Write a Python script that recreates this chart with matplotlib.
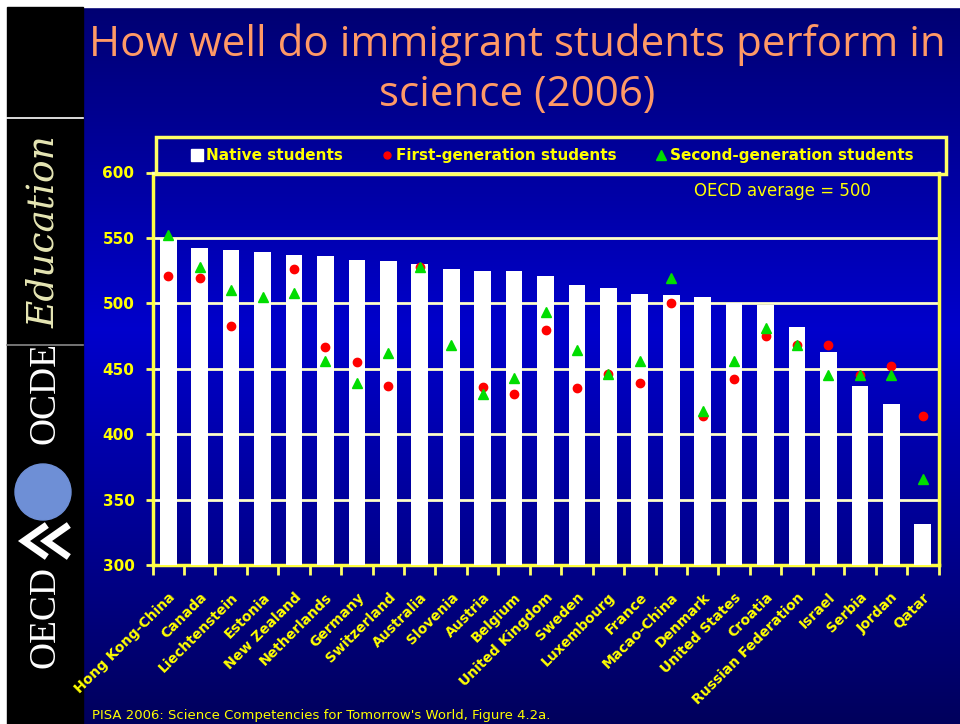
import numpy as np
import matplotlib.pyplot as plt
from matplotlib.lines import Line2D
from matplotlib.patches import Rectangle, Circle

# Data
countries = ['Hong Kong-China', 'Canada', 'Liechtenstein', 'Estonia', 'New Zealand',
             'Netherlands', 'Germany', 'Switzerland', 'Australia', 'Slovenia',
             'Austria', 'Belgium', 'United Kingdom', 'Sweden', 'Luxembourg',
             'France', 'Macao-China', 'Denmark', 'United States', 'Croatia',
             'Russian Federation', 'Israel', 'Serbia', 'Jordan', 'Qatar']
native = [549, 542, 541, 539, 537, 536, 533, 532, 530, 526, 525, 525, 521,
          514, 512, 507, 506, 505, 500, 499, 482, 463, 437, 423, 331]
first_gen = [521, 519, 483, np.nan, 526, 467, 455, 437, 528, np.nan, 436, 431, 480,
             435, 446, 439, 500, 414, 442, 475, 468, 468, 445, 452, 414]
second_gen = [552, 528, 510, 505, 508, 456, 439, 462, 528, 468, 431, 443, 493,
              464, 446, 456, 519, 418, 456, 481, 468, 445, 445, 445, 366]
yticks = [300, 350, 400, 450, 500, 550, 600]

W, H = 960, 724
fig = plt.figure(figsize=(W / 100, H / 100), dpi=100)

# background: blue vertical gradient
bg = fig.add_axes([0, 0, 1, 1], zorder=-10)
rows = np.arange(H)
blue = np.interp(rows, [0, 330, 724], [0.44, 0.80, 0.36])
grad = np.zeros((H, 2, 3))
grad[:, :, 2] = blue[:, None]
bg.imshow(grad, aspect='auto', extent=[0, 1, 0, 1])
bg.set_xlim(0, 1)
bg.set_ylim(0, 1)
bg.axis('off')

def fx(px):
    return px / W

def fy(py):
    return 1 - py / H

# white border and black logo strip
fig.add_artist(Rectangle((0, fy(7)), 1, 7 / H, transform=fig.transFigure, color='white', zorder=-5))
fig.add_artist(Rectangle((0, 0), fx(7), 1, transform=fig.transFigure, color='white', zorder=-5))
fig.add_artist(Rectangle((fx(7), 0), fx(76), fy(7), transform=fig.transFigure, color='black', zorder=-5))
fig.add_artist(Line2D([fx(7), fx(83)], [fy(118), fy(118)], transform=fig.transFigure, color='white', lw=1.2))
fig.add_artist(Line2D([fx(7), fx(83)], [fy(345), fy(345)], transform=fig.transFigure, color='#888888', lw=1.2))
fig.text(fx(44), fy(232), 'Education', rotation=90, ha='center', va='center',
         color='#E6E6B4', fontsize=27, family='DejaVu Serif', style='italic')
fig.text(fx(45), fy(393), 'OCDE', rotation=90, ha='center', va='center',
         color='white', fontsize=27, family='Liberation Serif')
fig.add_artist(Circle((0.43, (H - 492) / 100), 0.28, transform=fig.dpi_scale_trans,
                      color='#6E8FD6', zorder=2))
# double chevron of the logo
for x0 in (24, 46):
    fig.add_artist(Line2D([fx(x0 + 20), fx(x0), fx(x0 + 20)], [fy(527), fy(541), fy(555)],
                          transform=fig.transFigure, color='white', lw=5,
                          solid_joinstyle='miter'))
fig.text(fx(45), fy(617), 'OECD', rotation=90, ha='center', va='center',
         color='white', fontsize=27, family='Liberation Serif')

# title
fig.text(fx(517), fy(45), 'How well do immigrant students perform in', ha='center', va='center',
         color='#FF9966', fontsize=30.3, family='Open Sans')
fig.text(fx(517), fy(95), 'science (2006)', ha='center', va='center',
         color='#FF9966', fontsize=30.3, family='Open Sans')

# main axes
ax = fig.add_axes([fx(152.5), fy(565), fx(938.5 - 152.5), (565 - 172.5) / H])
ax.set_facecolor('none')
x = np.arange(len(countries))
ax.bar(x, native, width=0.53, bottom=0, color='white', zorder=3)
ax.plot(x, first_gen, 'o', color='#FF0000', markersize=6, zorder=4)
ax.plot(x, second_gen, '^', color='#00DD00', markersize=7.5, zorder=5)

ax.set_xlim(-0.5, len(countries) - 0.5)
ax.set_ylim(300, 600)
ax.set_yticks(yticks)
ax.set_yticklabels([str(v) for v in yticks], color='#FFFF00', fontweight='bold', fontsize=11)
for v in yticks[1:]:
    ax.axhline(v, color='#FFFFC8', lw=2, zorder=1)

ax.set_xticks(np.arange(len(countries) + 1) - 0.5)
ax.set_xticklabels([])
ax.set_xticks(x, countries, minor=True)
ax.tick_params(axis='x', which='major', length=7, width=2, color='#FFFF66', direction='out')
ax.tick_params(axis='x', which='minor', length=0, pad=18)
ax.tick_params(axis='y', length=5, width=2, color='#FFFF66', pad=8)
for lab in ax.get_xticklabels(minor=True):
    lab.set_rotation(45)
    lab.set_ha('right')
    lab.set_va('top')
    lab.set_rotation_mode('anchor')
    lab.set_color('#FFFF00')
    lab.set_fontweight('bold')
    lab.set_fontsize(10)

for s in ['left', 'right', 'bottom']:
    ax.spines[s].set_color('#FFFF44')
    ax.spines[s].set_linewidth(2.5)
ax.spines['top'].set_color('#FFFFC8')
ax.spines['top'].set_linewidth(2)

ax.text(0.802, 0.953, 'OECD average = 500', transform=ax.transAxes, ha='center', va='center',
        color='#FFFF00', fontsize=12)

# legend box
fig.add_artist(Rectangle((fx(156), fy(174)), fx(790), 37 / H, transform=fig.transFigure,
                         fill=False, edgecolor='#FFFF66', lw=2.5))
handles = [
    Line2D([], [], marker='s', color='white', ls='none', markersize=9),
    Line2D([], [], marker='o', color='#FF0000', ls='none', markersize=5),
    Line2D([], [], marker='^', color='#00DD00', ls='none', markersize=7),
]
leg = fig.legend(handles, ['Native students', 'First-generation students', 'Second-generation students'],
                 loc='center', bbox_to_anchor=(fx(553), fy(155.5)), ncol=3, frameon=False,
                 handlelength=0.6, handletextpad=0.3, columnspacing=2.6,
                 prop={'weight': 'bold', 'size': 11})
for t in leg.get_texts():
    t.set_color('#FFFF00')

# footer
fig.text(fx(92), fy(716), "PISA 2006: Science Competencies for Tomorrow's World, Figure 4.2a.",
         ha='left', va='center', color='#FFFF00', fontsize=9.5)

fig.savefig('out.png', dpi=100)
